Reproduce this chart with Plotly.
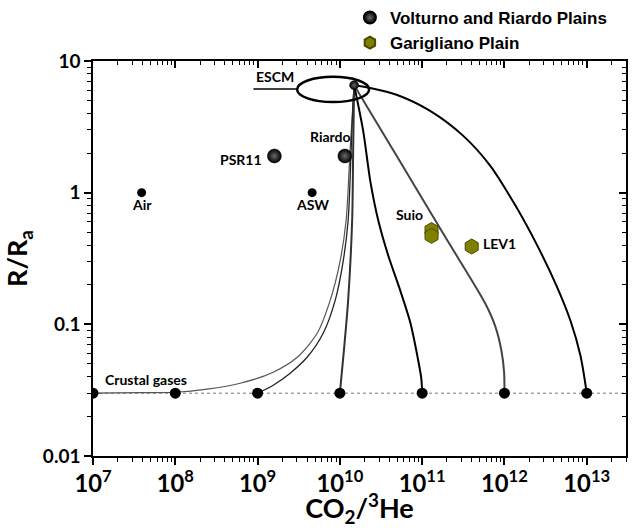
import numpy as np
import plotly.graph_objects as go

# ---------------- data ----------------
escm_x, escm_y = [1.49e10], [6.55]
air_x, air_y = [3.9e7], [1.0]
asw_x, asw_y = [4.6e9], [1.0]
volt_names = ["PSR11", "Riardo"]
volt_x = [1.6e9, 1.15e10]
volt_y = [1.9, 1.9]
gar_names = ["Suio", "Suio", "LEV1"]
gar_x = [1.3e11, 1.3e11, 4.0e11]
gar_y = [0.52, 0.47, 0.39]
crust_x = [1e7, 1e8, 1e9, 1e10, 1e11, 1e12, 1e13]
crust_y = [0.03, 0.03, 0.03, 0.03, 0.03, 0.03, 0.03]

c13_x = [1.49e10, 2.34e10, 4.98e10, 1.25e11, 3.16e11, 6.73e11, 1.36e12, 2.51e12, 4.28e12, 6.33e12, 8.37e12, 1e13]
c13_y = [6.55, 6.24, 5.52, 4.18, 2.70, 1.60, 0.798, 0.396, 0.197, 0.107, 0.0582, 0.03]
c12_x = [1.49e10, 5.41e10, 1.8e11, 5.85e11, 7.74e11, 9.17e11, 9.9e11, 1e12]
c12_y = [6.55, 1.72, 0.489, 0.144, 0.0966, 0.0635, 0.0433, 0.03]
c11_x = [1.49e10, 1.92e10, 2.34e10, 2.93e10, 3.87e10, 5.41e10, 7.16e10, 8.71e10, 9.75e10, 1e11]
c11_y = [6.55, 2.95, 1.23, 0.614, 0.333, 0.181, 0.1035, 0.0582, 0.039, 0.03]
c10_x = [1.49e10, 1.45e10, 1.41e10, 1.26e10, 1.12e10, 1e10]
c10_y = [6.55, 2.08, 0.614, 0.152, 0.0635, 0.03]
c9_x = [1e9, 1.55e9, 2.49e9, 4.0e9, 6.27e9, 8.77e9, 1.1e10, 1.26e10, 1.37e10, 1.45e10, 1.49e10]
c9_y = [0.03, 0.0345, 0.0426, 0.0562, 0.0855, 0.152, 0.305, 0.614, 2.08, 4.98, 6.55]
c7_x = [1e7, 3.73e7, 1.02e8, 2.43e8, 6.14e8, 1.55e9, 3.03e9, 5.3e9, 7.62e9, 1.01e10, 1.19e10, 1.33e10, 1.45e10, 1.49e10]
c7_y = [0.03, 0.0303, 0.0305, 0.0322, 0.0357, 0.0433, 0.0562, 0.0855, 0.152, 0.305, 0.614, 2.08, 4.98, 6.55]

x_range = [1e7, 3e13]
y_range = [0.01, 10]
ref_y = 0.03

# ---------------- figure ----------------
fig = go.Figure()

fig.add_trace(go.Scatter(x=x_range, y=[ref_y, ref_y], mode="lines",
                         line=dict(color="#777", width=1, dash="dot"),
                         showlegend=False, hoverinfo="skip"))

curves = [
    (c7_x, c7_y, "#555", 1.2),
    (c9_x, c9_y, "#222", 1.3),
    (c10_x, c10_y, "#333", 2),
    (c11_x, c11_y, "#000", 2),
    (c12_x, c12_y, "#444", 2),
    (c13_x, c13_y, "#000", 2),
]
for cx, cy, col, w in curves:
    fig.add_trace(go.Scatter(x=cx, y=cy, mode="lines",
                             line=dict(color=col, width=w, shape="spline", smoothing=0.8),
                             showlegend=False, hoverinfo="skip"))

fig.add_trace(go.Scatter(x=crust_x, y=crust_y, mode="markers",
                         marker=dict(color="black", size=11),
                         showlegend=False))
fig.add_trace(go.Scatter(x=air_x + asw_x, y=air_y + asw_y, mode="markers",
                         marker=dict(color="black", size=9),
                         showlegend=False))
sphere = dict(color="black", gradient=dict(type="radial", color="#6a6a6a"),
              line=dict(color="black", width=0.5))
fig.add_trace(go.Scatter(x=escm_x, y=escm_y, mode="markers",
                         marker=dict(size=9, **sphere), showlegend=False))
fig.add_trace(go.Scatter(x=volt_x, y=volt_y, mode="markers",
                         name="Volturno and Riardo Plains",
                         marker=dict(size=14, **sphere)))
fig.add_trace(go.Scatter(x=gar_x, y=gar_y, mode="markers",
                         name="Garigliano Plain",
                         marker=dict(symbol="hexagon", size=15, color="#808000",
                                     line=dict(color="#4a4a00", width=1))))
# invisible trace for mirrored axes
fig.add_trace(go.Scatter(x=x_range, y=y_range, xaxis="x2", yaxis="y2",
                         mode="markers", marker=dict(opacity=0),
                         showlegend=False, hoverinfo="skip"))

# ---------------- labels ----------------
lab_font = dict(family="Lato", size=14, color="black", weight="bold")
def lab(x, y, text, xs=0, ys=0, xa="center"):
    fig.add_annotation(x=np.log10(x), y=np.log10(y), text=text, showarrow=False,
                       xshift=xs, yshift=ys, xanchor=xa, font=lab_font)

lab(air_x[0], air_y[0], "Air", 0, -12)
lab(asw_x[0], asw_y[0], "ASW", 0, -12)
lab(volt_x[0], volt_y[0], volt_names[0], -10, -4, "right")
lab(volt_x[1], volt_y[1], volt_names[1], -14, 19)
lab(gar_x[0], gar_y[0], gar_names[0], -22, 16)
lab(gar_x[2], gar_y[2], gar_names[2], 9, 3, "left")
lab(crust_x[0], crust_y[0], "Crustal gases", 10, 14, "left")

fig.add_annotation(xref="paper", yref="paper", x=0.302, y=0.934, text="ESCM",
                   showarrow=False, xanchor="left", yanchor="bottom", font=lab_font)
fig.add_shape(type="line", xref="paper", yref="paper", x0=0.301, x1=0.383,
              y0=0.929, y1=0.929, line=dict(color="black", width=1.5))
fig.add_shape(type="circle", xref="paper", yref="paper", x0=0.383, x1=0.518,
              y0=0.896, y1=0.96, line=dict(color="black", width=2.5))

tickfont = dict(family="Lato", size=19, color="black", weight="bold")
title_font = dict(family="Lato", size=27, color="black", weight="bold")
axis_common = dict(type="log", showgrid=False, zeroline=False, showline=True,
                   linecolor="black", linewidth=1.5, tickcolor="black",
                   ticklen=7, tickwidth=1.5, automargin=False)

fig.update_layout(
    width=633, height=528,
    margin=dict(l=93, r=7, t=60, b=72),
    paper_bgcolor="white", plot_bgcolor="white",
    xaxis=dict(range=[np.log10(x_range[0]), np.log10(x_range[1])], dtick=1,
               exponentformat="power", ticks="outside", tickfont=tickfont,
               minor=dict(ticks="outside", ticklen=4, tickcolor="black", tickwidth=1),
               title=dict(text="CO<sub>2</sub>/<sup>3</sup>He", standoff=0, font=title_font),
               **axis_common),
    yaxis=dict(range=[np.log10(y_range[0]), np.log10(y_range[1])], dtick=1,
               ticks="outside", tickfont=tickfont,
               minor=dict(ticks="outside", ticklen=4, tickcolor="black", tickwidth=1),
               title=dict(text="R/R<sub>a</sub>", standoff=10, font=title_font),
               **axis_common),
    xaxis2=dict(range=[np.log10(x_range[0]), np.log10(x_range[1])], dtick=1,
                overlaying="x", side="top", ticks="inside", showticklabels=False,
                minor=dict(ticks="inside", ticklen=4, tickcolor="black", tickwidth=1),
                **axis_common),
    yaxis2=dict(range=[np.log10(y_range[0]), np.log10(y_range[1])], dtick=1,
                overlaying="y", side="right", ticks="inside", showticklabels=False,
                minor=dict(ticks="inside", ticklen=4, tickcolor="black", tickwidth=1),
                **axis_common),
    legend=dict(x=0.482, y=1.0, xref="paper", yref="container",
                xanchor="left", yanchor="top",
                bgcolor="rgba(0,0,0,0)",
                font=dict(family="Liberation Sans", size=17, color="black", weight="bold"),
                tracegroupgap=0, itemsizing="constant"),
    showlegend=True,
)

fig.write_html("out.html", config={"displayModeBar": False},
               post_script="document.body.style.margin='0';")
